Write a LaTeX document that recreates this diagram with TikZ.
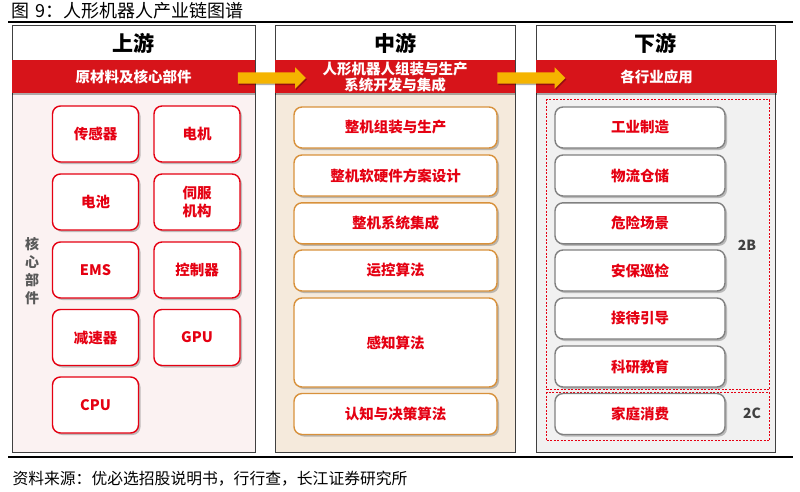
\documentclass[tikz,border=0pt]{standalone}
\usepackage{fontspec}
\setmainfont{Noto Sans CJK SC}
\usetikzlibrary{shapes.arrows,shadows}
\definecolor{bandred}{HTML}{D7141A}
\definecolor{txtred}{HTML}{E50012}
\definecolor{uppink}{HTML}{FBF2F2}
\definecolor{midtan}{HTML}{F5EADC}
\definecolor{midedge}{HTML}{D8913B}
\definecolor{downgray}{HTML}{F1F1F1}
\definecolor{arrowyel}{HTML}{F5B400}
\tikzset{
  panel/.style={draw=black!75, line width=1pt, inner sep=0pt, anchor=north west, minimum height=427pt},
  head/.style={fill=white, inner sep=0pt, anchor=north west, minimum height=34.5pt, font=\bfseries\fontsize{21}{24}\selectfont},
  band/.style={fill=bandred, text=white, inner sep=0pt, anchor=north west, minimum height=33pt, align=center,
    font=\bfseries\fontsize{14.5}{16}\selectfont, drop shadow={shadow xshift=0pt, shadow yshift=-1.5pt, opacity=0.3, fill=black}},
  cell/.style={rounded corners=8pt, fill=white, line width=1.4pt, text=txtred, align=center, inner sep=0pt,
    font=\bfseries\fontsize{14.5}{18}\selectfont,
    drop shadow={shadow xshift=2pt, shadow yshift=-2pt, opacity=0.4, fill=black!60}},
  upcell/.style={cell, draw=txtred, minimum width=86pt, minimum height=56pt},
  midcell/.style={cell, draw=midedge, minimum width=203pt, minimum height=41pt},
  downcell/.style={cell, draw=black!50, minimum width=170pt, minimum height=41pt},
  zone/.style={draw=txtred, line width=1.2pt, dash pattern=on 2pt off 1.5pt, inner sep=0pt, anchor=north west, minimum width=223pt},
  tag/.style={text=black!75, font=\bfseries\fontsize{14}{16}\selectfont},
  flow/.style={single arrow, fill=arrowyel, inner sep=5.5pt, single arrow head extend=5pt, minimum height=68pt,
    drop shadow={shadow xshift=1pt, shadow yshift=-1.5pt, opacity=0.3, fill=black}},
}
\begin{document}
\begin{tikzpicture}[x=1pt,y=-1pt]
\useasboundingbox (0,0) rectangle (800,491);
\node[anchor=west, font=\fontsize{18}{20}\selectfont] (fig) at (8,11) {图\hspace{6pt}9：人形机器人产业链图谱};
\draw[line width=2pt] (8,22) -- (793,22);
\draw[line width=2pt] (8,457) -- (793,457);
\node[anchor=west, font=\fontsize{15.8}{18}\selectfont] (src) at (9,479) {资料来源：优必选招股说明书，行行查，长江证券研究所};

\node[panel, fill=uppink, minimum width=243pt] (up) at (12,25) {};
\node[panel, fill=midtan, minimum width=240pt] (mid) at (275,25) {};
\node[panel, fill=downgray, minimum width=239pt] (down) at (536,25) {};
\node[head, minimum width=242pt] (upHead) at ([xshift=.5pt,yshift=-.5pt]up.north west) {上游};
\node[head, minimum width=239pt] (midHead) at ([xshift=.5pt,yshift=-.5pt]mid.north west) {中游};
\node[head, minimum width=238pt] (downHead) at ([xshift=.5pt,yshift=-.5pt]down.north west) {下游};
\node[band, minimum width=243pt] (upBand) at (12,60) {原材料及核心部件};
\node[band, minimum width=240pt] (midBand) at (275,60) {人形机器人组装与生产\\系统开发与集成};
\node[band, minimum width=241pt] (downBand) at (536,60) {各行业应用};

\node[text=black!65, align=center, font=\bfseries\fontsize{14}{18}\selectfont] (core) at (32,271) {核\\心\\部\\件};
\foreach \name/\x/\y/\txt in {sensor/95.5/134/传感器, motor/197/134/电机, battery/95.5/202/电池,
    servo/197/202/{伺服\\机构}, ems/95.5/270/EMS, ctrl/197/270/控制器,
    reducer/95.5/337.5/减速器, gpu/197/337.5/GPU, cpu/95.5/405/CPU}
  \node[upcell] (\name) at (\x,\y) {\txt};

\foreach \name/\y/\txt in {assemble/127.5/整机组装与生产, design/175.5/整机软硬件方案设计,
    integrate/223.3/整机系统集成, motion/270.5/运控算法, decide/414/认知与决策算法}
  \node[midcell] (\name) at (395.5,\y) {\txt};
\node[midcell, minimum height=89pt] (percept) at (395.5,342.5) {感知算法};

\node[zone, minimum height=290pt] (zoneB) at (546,99) {};
\node[zone, minimum height=48pt] (zoneC) at (546,392) {};
\node[tag] (tagB) at (747,245) {2B};
\node[tag] (tagC) at (752,413) {2C};
\foreach \name/\y/\txt in {industry/127.5/工业制造, logistics/175.5/物流仓储, danger/223.3/危险场景,
    patrol/270.5/安保巡检, reception/318.5/接待引导, research/366.5/科研教育, home/414/家庭消费}
  \node[downcell] (\name) at (640,\y) {\txt};

\node[flow] (upToMid) at (269,78) {};
\node[flow] (midToDown) at (528.5,78) {};
\end{tikzpicture}
\end{document}
